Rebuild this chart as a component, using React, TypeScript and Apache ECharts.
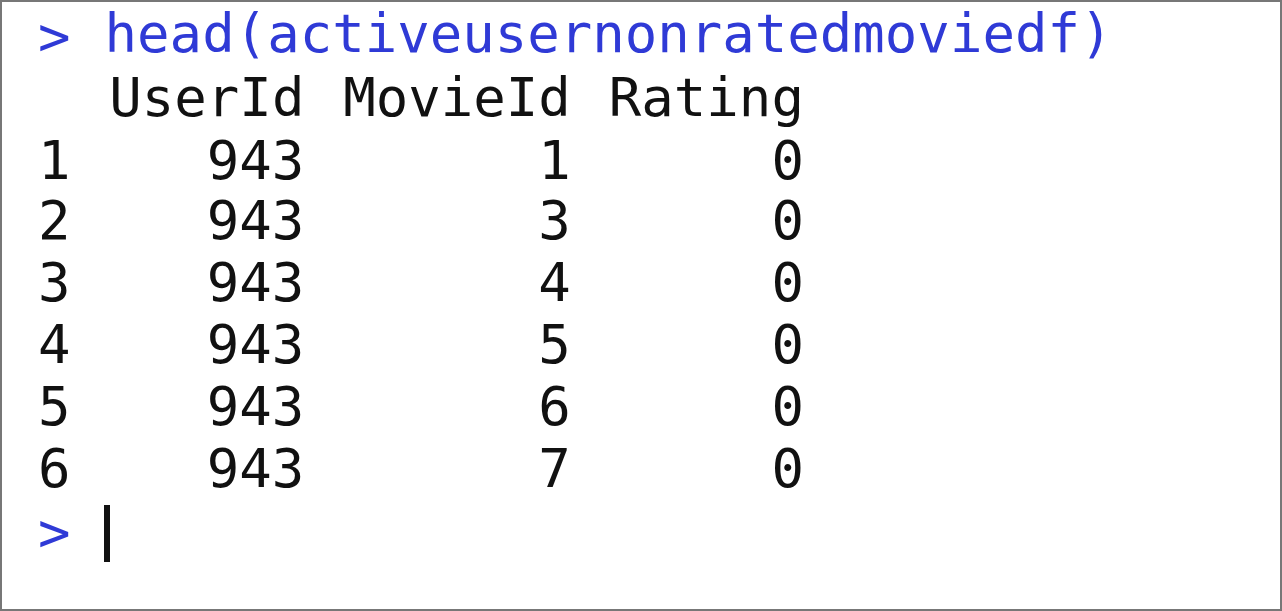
import { useEffect, useRef } from "react";
import * as echarts from "echarts";

const command = "head(activeusernonratedmoviedf)";
const headers = ["UserId", "MovieId", "Rating"];
const rowNames = ["1", "2", "3", "4", "5", "6"];
const userIds = [943, 943, 943, 943, 943, 943];
const movieIds = [1, 3, 4, 5, 6, 7];
const ratings = [0, 0, 0, 0, 0, 0];

const X0 = 38;
const CW = 33.3;
const FONT = "DejaVu Sans Mono";
const colEnds = [8, 16, 23];
const rowY = [160, 220, 282, 344, 406, 468];

export default function App() {
  const ref = useRef<HTMLDivElement>(null);

  useEffect(() => {
    if (!ref.current) return;
    const chart = echarts.init(ref.current, null, { renderer: "svg" });
    const txt = (s: string, x: number, y: number, color: string, align = "left") => ({
      type: "text",
      x,
      y,
      style: {
        text: s,
        fill: color,
        font: `54px "${FONT}"`,
        textAlign: align,
        textVerticalAlign: "middle",
      },
    });
    const blue = "#2f3ad6";
    const black = "#111111";
    const els: any[] = [
      { type: "rect", shape: { x: 1, y: 1, width: 1280, height: 609 }, style: { fill: "#fff", stroke: "#777", lineWidth: 2 } },
      txt(">", X0, 36, blue, "left"),
      txt(command, X0 + 2 * CW, 33, blue, "left"),
      txt(">", X0, 532, blue, "left"),
      { type: "rect", shape: { x: 104, y: 505, width: 6, height: 57 }, style: { fill: black } },
    ];
    headers.forEach((h, i) => els.push(txt(h, X0 + colEnds[i] * CW, 97, black, "right")));
    rowNames.forEach((r, i) => {
      els.push(txt(r, X0, rowY[i], black, "left"));
      els.push(txt(String(userIds[i]), X0 + colEnds[0] * CW, rowY[i], black, "right"));
      els.push(txt(String(movieIds[i]), X0 + colEnds[1] * CW, rowY[i], black, "right"));
      els.push(txt(String(ratings[i]), X0 + colEnds[2] * CW, rowY[i], black, "right"));
    });
    chart.setOption({ animation: false, graphic: els });
    return () => chart.dispose();
  }, []);

  return <div ref={ref} style={{ position: "fixed", left: 0, top: 0, width: 1282, height: 611 }} />;
}
